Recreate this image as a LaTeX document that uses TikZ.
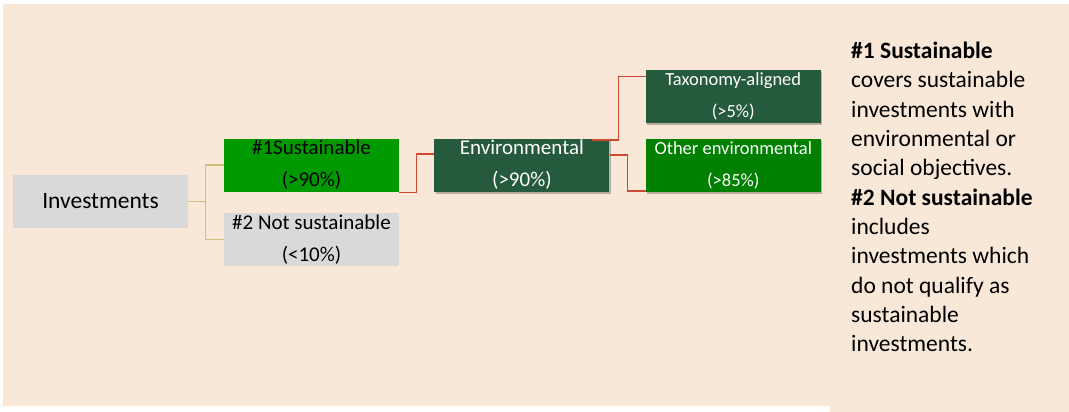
\documentclass[tikz,border=0pt]{standalone}
\usepackage{fontspec}
\setmainfont{Carlito}
\definecolor{cBack}{HTML}{F9E8D8}
\definecolor{cGrey}{HTML}{D9D9D9}
\definecolor{cLime}{HTML}{009900}
\definecolor{cMoss}{HTML}{265A3C}
\definecolor{cLeaf}{HTML}{008000}
\definecolor{cTan}{HTML}{CFC07A}
\definecolor{cRust}{HTML}{CC4A32}
\usetikzlibrary{positioning,shadows}

\begin{document}
\begin{tikzpicture}[x=1pt,y=-1pt,
      box/.style={minimum width=175pt,minimum height=53pt,inner sep=0pt,align=center,
                  font=\fontsize{21}{32}\selectfont},
      shd/.style={drop shadow={shadow xshift=1.5pt,shadow yshift=-2pt,opacity=.25,fill=black}},
      small/.style={font=\fontsize{18.5}{32}\selectfont},
      tan/.style={color=cTan,line width=1.2pt},
      rust/.style={color=cRust,line width=1.4pt}]
    % page
    \useasboundingbox (0,0) rectangle (1069,412);
    \fill[cBack] (3,4) rectangle (1069,406);
    \fill[cBack] (830,406) rectangle (1069,412);
    % tree
    \node[box,fill=cGrey,font=\fontsize{23.5}{32}\selectfont] (inv) at (100.5,201.5) {Investments};
    \node[box,fill=cLime] (sust) at (311.5,165) {\#1Sustainable\\(>90\%)};
    \node[box,fill=cGrey,below=21pt of sust] (nsust) {\#2 Not sustainable\\(<10\%)};
    \node[box,fill=cMoss,text=white,shd,right=35pt of sust] (env) {Environmental\\(>90\%)};
    \node[box,small,fill=cLeaf,text=white,shd,right=36pt of env] (oth) {Other environmental\\(>85\%)};
    \node[box,small,fill=cMoss,text=white,shd,above=15pt of oth] (tax) {Taxonomy-aligned\\(>5\%)};
    % links
    \draw[tan] (inv.east) -- ++(17,0) |- (sust.west);
    \draw[tan] (inv.east) -- ++(17,0) |- (nsust.west);
    \draw[rust] (sust.south east) ++(0,1) -- ++(17,0) |- ([yshift=11pt]env.west);
    \draw[rust] ([xshift=-18pt,yshift=25pt]env.east) -- ++(27,0) |- ([yshift=20pt]tax.west);
    \draw[rust] ([yshift=10pt]env.east) -- ++(18,0) |- ([yshift=-26pt]oth.west);
    % legend
    \node[anchor=north west,align=left,inner sep=0pt,font=\fontsize{23.5}{29.3}\selectfont] (note) at (851,42)
      {\textbf{\#1 Sustainable}\\covers sustainable\\investments with\\environmental or\\social objectives.\\
       \textbf{\#2 Not sustainable}\\includes\\investments which\\do not qualify as\\sustainable\\investments.};
  \end{tikzpicture}
\end{document}
